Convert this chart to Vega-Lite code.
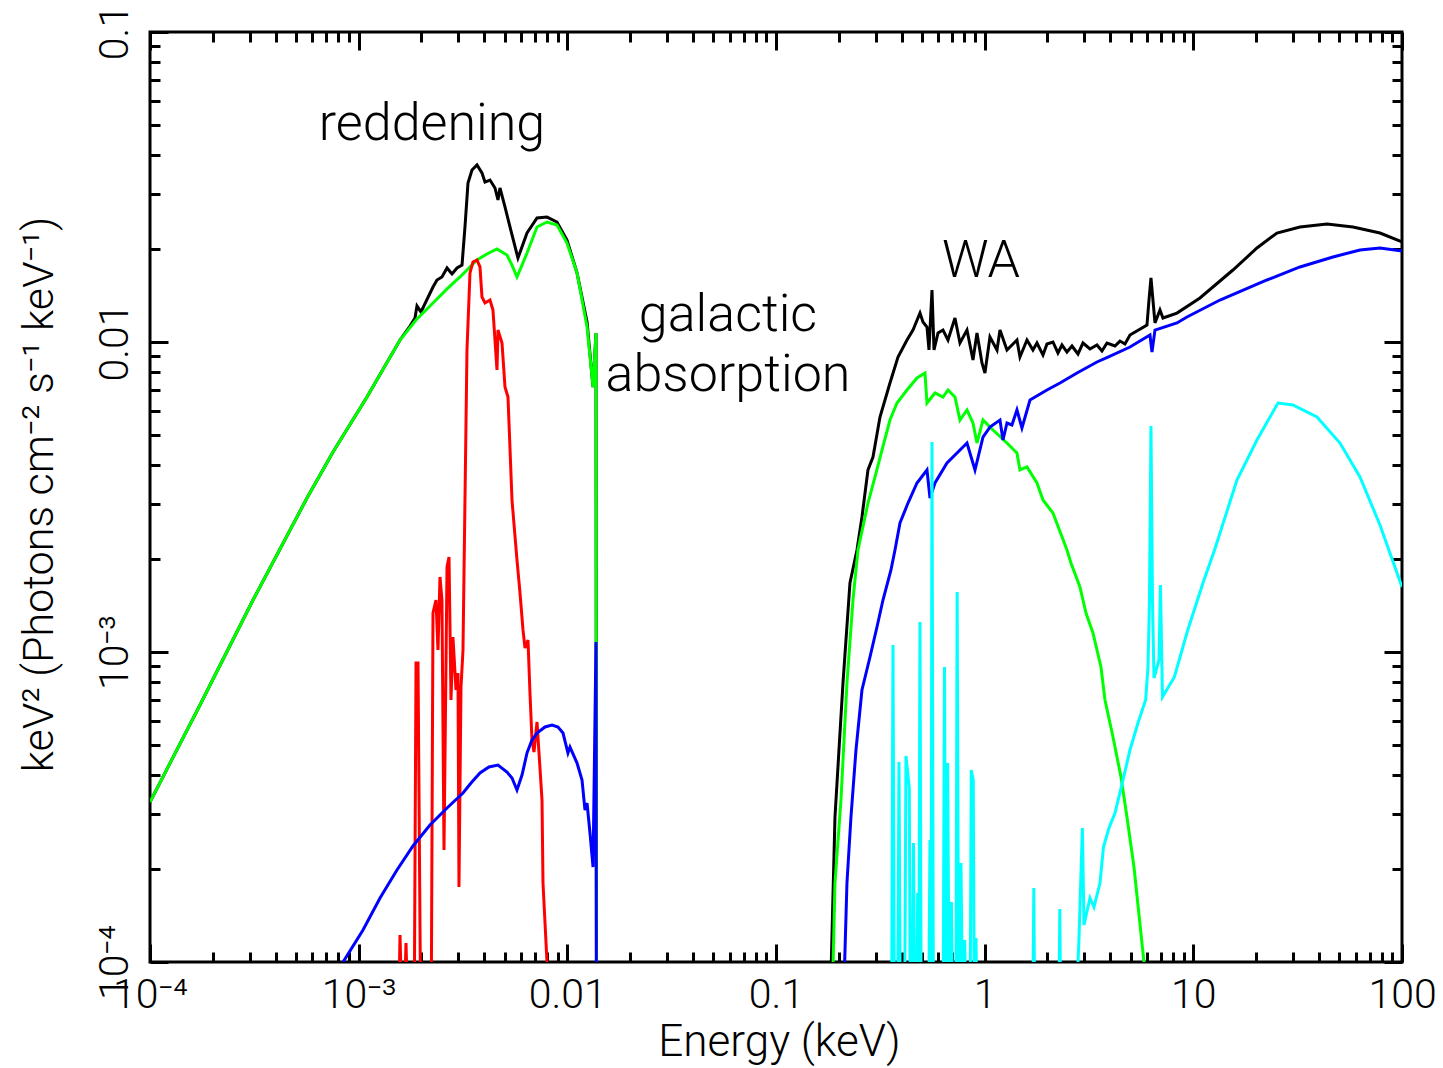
{
 "$schema": "https://vega.github.io/schema/vega-lite/v6.json",
 "width": 1252,
 "height": 930,
 "autosize": {"type": "none"},
 "padding": {"left": 150, "top": 32, "right": 41, "bottom": 106},
 "background": "white",
 "config": {
  "view": {"stroke": "black", "strokeWidth": 3},
  "axis": {"grid": false, "domain": false, "tickColor": "black", "tickWidth": 3, "labelFont": "Roboto", "labelFontWeight": 300, "labelColor": "black", "titleFont": "Roboto", "titleFontWeight": 300, "titleColor": "black", "labelFlush": false, "labelOverlap": false, "labelBound": false},
  "text": {"font": "Roboto"}
 },
 "datasets": {
  "spec": [
   {"s":"k","g":1,"E":1e-4,"F":3.281e-4},{"s":"k","g":1,"E":1.736e-4,"F":6.745e-4},{"s":"k","g":1,"E":3.116e-4,"F":1.471e-3},{"s":"k","g":1,"E":5.655e-4,"F":3.139e-3},{"s":"k","g":1,"E":7.534e-4,"F":4.418e-3},{"s":"k","g":1,"E":1.096e-3,"F":6.645e-3},{"s":"k","g":1,"E":1.578e-3,"F":1.015e-2},{"s":"k","g":1,"E":1.762e-3,"F":1.126e-2},{"s":"k","g":1,"E":1.862e-3,"F":1.195e-2},{"s":"k","g":1,"E":1.903e-3,"F":1.306e-2},{"s":"k","g":1,"E":1.989e-3,"F":1.250e-2},{"s":"k","g":1,"E":2.271e-3,"F":1.504e-2},{"s":"k","g":1,"E":2.373e-3,"F":1.585e-2},{"s":"k","g":1,"E":2.507e-3,"F":1.621e-2},{"s":"k","g":1,"E":2.651e-3,"F":1.733e-2},{"s":"k","g":1,"E":2.801e-3,"F":1.657e-2},{"s":"k","g":1,"E":2.960e-3,"F":1.733e-2},{"s":"k","g":1,"E":3.128e-3,"F":1.771e-2},{"s":"k","g":1,"E":3.232e-3,"F":2.350e-2},{"s":"k","g":1,"E":3.341e-3,"F":3.257e-2},{"s":"k","g":1,"E":3.492e-3,"F":3.587e-2},{"s":"k","g":1,"E":3.690e-3,"F":3.724e-2},{"s":"k","g":1,"E":3.899e-3,"F":3.509e-2},{"s":"k","g":1,"E":4.031e-3,"F":3.281e-2},{"s":"k","g":1,"E":4.259e-3,"F":3.331e-2},{"s":"k","g":1,"E":4.501e-3,"F":3.139e-2},{"s":"k","g":1,"E":4.652e-3,"F":2.872e-2},{"s":"k","g":1,"E":4.756e-3,"F":3.139e-2},{"s":"k","g":1,"E":5.026e-3,"F":2.726e-2},{"s":"k","g":1,"E":5.310e-3,"F":2.350e-2},{"s":"k","g":1,"E":5.800e-3,"F":1.866e-2},{"s":"k","g":1,"E":6.409e-3,"F":2.247e-2},{"s":"k","g":1,"E":7.157e-3,"F":2.512e-2},{"s":"k","g":1,"E":7.990e-3,"F":2.530e-2},{"s":"k","g":1,"E":8.921e-3,"F":2.438e-2},{"s":"k","g":1,"E":9.961e-3,"F":2.133e-2},{"s":"k","g":1,"E":1.030e-2,"F":1.981e-2},{"s":"k","g":1,"E":1.113e-2,"F":1.670e-2},{"s":"k","g":1,"E":1.243e-2,"F":1.160e-2},{"s":"k","g":1,"E":1.328e-2,"F":7.158e-3},{"s":"k","g":1,"E":1.372e-2,"F":1.069e-2},{"s":"k","g":1,"E":1.387e-2,"F":1e-6},
   {"s":"k","g":2,"E":0.1794,"F":5e-5},{"s":"k","g":2,"E":0.1917,"F":2.936e-4},{"s":"k","g":2,"E":0.2094,"F":7.943e-4},{"s":"k","g":2,"E":0.2262,"F":1.670e-3},{"s":"k","g":2,"E":0.2444,"F":2.133e-3},{"s":"k","g":2,"E":0.2582,"F":2.726e-3},{"s":"k","g":2,"E":0.2759,"F":3.865e-3},{"s":"k","g":2,"E":0.2916,"F":4.256e-3},{"s":"k","g":2,"E":0.3150,"F":5.730e-3},{"s":"k","g":2,"E":0.3517,"F":7.374e-3},{"s":"k","g":2,"E":0.3843,"F":8.945e-3},{"s":"k","g":2,"E":0.4244,"F":1.015e-2},{"s":"k","g":2,"E":0.4534,"F":1.093e-2},{"s":"k","g":2,"E":0.4898,"F":1.240e-2},{"s":"k","g":2,"E":0.5063,"F":1.160e-2},{"s":"k","g":2,"E":0.5291,"F":1.118e-2},{"s":"k","g":2,"E":0.5409,"F":9.424e-3},{"s":"k","g":2,"E":0.5592,"F":1.471e-2},{"s":"k","g":2,"E":0.5717,"F":9.424e-3},{"s":"k","g":2,"E":0.5975,"F":1.069e-2},{"s":"k","g":2,"E":0.6313,"F":1.093e-2},{"s":"k","g":2,"E":0.6672,"F":1.015e-2},{"s":"k","g":2,"E":0.7206,"F":1.195e-2},{"s":"k","g":2,"E":0.7614,"F":9.926e-3},{"s":"k","g":2,"E":0.8228,"F":1.093e-2},{"s":"k","g":2,"E":0.8790,"F":8.748e-3},{"s":"k","g":2,"E":0.9186,"F":1.069e-2},{"s":"k","g":2,"E":0.9707,"F":8.555e-3},{"s":"k","g":2,"E":1.003,"F":7.943e-3},{"s":"k","g":2,"E":1.060,"F":1.038e-2},{"s":"k","g":2,"E":1.146,"F":9.424e-3},{"s":"k","g":2,"E":1.184,"F":1.093e-2},{"s":"k","g":2,"E":1.279,"F":9.424e-3},{"s":"k","g":2,"E":1.428,"F":1.015e-2},{"s":"k","g":2,"E":1.476,"F":8.945e-3},{"s":"k","g":2,"E":1.595,"F":1.015e-2},{"s":"k","g":2,"E":1.704,"F":9.424e-3},{"s":"k","g":2,"E":1.781,"F":9.926e-3},{"s":"k","g":2,"E":1.903,"F":9.080e-3},{"s":"k","g":2,"E":1.989,"F":9.852e-3},{"s":"k","g":2,"E":2.125,"F":1.000e-2},{"s":"k","g":2,"E":2.245,"F":9.216e-3},{"s":"k","g":2,"E":2.347,"F":9.779e-3},{"s":"k","g":2,"E":2.480,"F":9.283e-3},{"s":"k","g":2,"E":2.621,"F":9.707e-3},{"s":"k","g":2,"E":2.801,"F":9.148e-3},{"s":"k","g":2,"E":2.959,"F":9.926e-3},{"s":"k","g":2,"E":3.197,"F":9.493e-3},{"s":"k","g":2,"E":3.453,"F":9.779e-3},{"s":"k","g":2,"E":3.649,"F":9.354e-3},{"s":"k","g":2,"E":3.856,"F":9.926e-3},{"s":"k","g":2,"E":4.212,"F":9.707e-3},{"s":"k","g":2,"E":4.450,"F":1.007e-2},{"s":"k","g":2,"E":4.703,"F":9.852e-3},{"s":"k","g":2,"E":4.970,"F":1.053e-2},{"s":"k","g":2,"E":5.995,"F":1.134e-2},{"s":"k","g":2,"E":6.130,"F":1.366e-2},{"s":"k","g":2,"E":6.266,"F":1.609e-2},{"s":"k","g":2,"E":6.549,"F":1.152e-2},{"s":"k","g":2,"E":6.920,"F":1.268e-2},{"s":"k","g":2,"E":7.152,"F":1.195e-2},{"s":"k","g":2,"E":8.348,"F":1.240e-2},{"s":"k","g":2,"E":10.76,"F":1.387e-2},{"s":"k","g":2,"E":15.48,"F":1.707e-2},{"s":"k","g":2,"E":20.18,"F":2.010e-2},{"s":"k","g":2,"E":25.16,"F":2.247e-2},{"s":"k","g":2,"E":32.43,"F":2.350e-2},{"s":"k","g":2,"E":43.70,"F":2.403e-2},{"s":"k","g":2,"E":58.21,"F":2.350e-2},{"s":"k","g":2,"E":78.43,"F":2.247e-2},{"s":"k","g":2,"E":100,"F":2.102e-2},
   {"s":"g","g":1,"E":1e-4,"F":3.281e-4},{"s":"g","g":1,"E":1.736e-4,"F":6.745e-4},{"s":"g","g":1,"E":3.116e-4,"F":1.471e-3},{"s":"g","g":1,"E":5.655e-4,"F":3.139e-3},{"s":"g","g":1,"E":7.534e-4,"F":4.418e-3},{"s":"g","g":1,"E":1.096e-3,"F":6.645e-3},{"s":"g","g":1,"E":1.578e-3,"F":1.015e-2},{"s":"g","g":1,"E":1.883e-3,"F":1.178e-2},{"s":"g","g":1,"E":2.271e-3,"F":1.336e-2},{"s":"g","g":1,"E":2.651e-3,"F":1.483e-2},{"s":"g","g":1,"E":3.059e-3,"F":1.621e-2},{"s":"g","g":1,"E":3.690e-3,"F":1.839e-2},{"s":"g","g":1,"E":4.121e-3,"F":1.923e-2},{"s":"g","g":1,"E":4.601e-3,"F":1.995e-2},{"s":"g","g":1,"E":5.138e-3,"F":1.908e-2},{"s":"g","g":1,"E":5.430e-3,"F":1.771e-2},{"s":"g","g":1,"E":5.737e-3,"F":1.621e-2},{"s":"g","g":1,"E":6.064e-3,"F":1.771e-2},{"s":"g","g":1,"E":6.409e-3,"F":1.937e-2},{"s":"g","g":1,"E":7.157e-3,"F":2.350e-2},{"s":"g","g":1,"E":7.990e-3,"F":2.438e-2},{"s":"g","g":1,"E":8.921e-3,"F":2.385e-2},{"s":"g","g":1,"E":9.961e-3,"F":2.086e-2},{"s":"g","g":1,"E":1.113e-2,"F":1.670e-2},{"s":"g","g":1,"E":1.243e-2,"F":1.118e-2},{"s":"g","g":1,"E":1.328e-2,"F":7.158e-3},{"s":"g","g":1,"E":1.372e-2,"F":1.069e-2},{"s":"g","g":1,"E":1.387e-2,"F":1e-6},
   {"s":"g","g":2,"E":0.1834,"F":5e-5},{"s":"g","g":2,"E":0.1917,"F":1.798e-4},{"s":"g","g":2,"E":0.2048,"F":3.331e-4},{"s":"g","g":2,"E":0.2188,"F":7.943e-4},{"s":"g","g":2,"E":0.2338,"F":1.471e-3},{"s":"g","g":2,"E":0.2471,"F":2.133e-3},{"s":"g","g":2,"E":0.2759,"F":3.024e-3},{"s":"g","g":2,"E":0.2980,"F":3.668e-3},{"s":"g","g":2,"E":0.3220,"F":4.483e-3},{"s":"g","g":2,"E":0.3517,"F":5.602e-3},{"s":"g","g":2,"E":0.3800,"F":6.355e-3},{"s":"g","g":2,"E":0.4244,"F":7.002e-3},{"s":"g","g":2,"E":0.4738,"F":7.655e-3},{"s":"g","g":2,"E":0.5175,"F":7.943e-3},{"s":"g","g":2,"E":0.5291,"F":6.355e-3},{"s":"g","g":2,"E":0.5780,"F":6.847e-3},{"s":"g","g":2,"E":0.6313,"F":6.645e-3},{"s":"g","g":2,"E":0.6672,"F":7.002e-3},{"s":"g","g":2,"E":0.7206,"F":6.645e-3},{"s":"g","g":2,"E":0.7614,"F":5.602e-3},{"s":"g","g":2,"E":0.8228,"F":6.035e-3},{"s":"g","g":2,"E":0.8790,"F":5.478e-3},{"s":"g","g":2,"E":0.9186,"F":4.722e-3},{"s":"g","g":2,"E":0.9815,"F":5.602e-3},{"s":"g","g":2,"E":1.096,"F":5.200e-3},{"s":"g","g":2,"E":1.279,"F":4.722e-3},{"s":"g","g":2,"E":1.428,"F":4.383e-3},{"s":"g","g":2,"E":1.476,"F":3.865e-3},{"s":"g","g":2,"E":1.595,"F":3.952e-3},{"s":"g","g":2,"E":1.781,"F":3.509e-3},{"s":"g","g":2,"E":1.903,"F":3.092e-3},{"s":"g","g":2,"E":2.125,"F":2.807e-3},{"s":"g","g":2,"E":2.480,"F":2.133e-3},{"s":"g","g":2,"E":2.592,"F":1.937e-3},{"s":"g","g":2,"E":2.861,"F":1.621e-3},{"s":"g","g":2,"E":3.059,"F":1.336e-3},{"s":"g","g":2,"E":3.304,"F":1.152e-3},{"s":"g","g":2,"E":3.609,"F":8.945e-4},{"s":"g","g":2,"E":3.772,"F":7.002e-4},{"s":"g","g":2,"E":4.121,"F":5.318e-4},{"s":"g","g":2,"E":4.500,"F":3.952e-4},{"s":"g","g":2,"E":4.808,"F":2.936e-4},{"s":"g","g":2,"E":5.194,"F":2.025e-4},{"s":"g","g":2,"E":5.800,"F":1.0e-4},{"s":"g","g":2,"E":5.9,"F":5e-5},
   {"s":"r","g":1,"E":1.543e-3,"F":5e-5},{"s":"r","g":1,"E":1.578e-3,"F":1.222e-4},{"s":"r","g":1,"E":1.631e-3,"F":5e-5},{"s":"r","g":1,"E":1.686e-3,"F":1.152e-4},{"s":"r","g":1,"E":1.742e-3,"F":5e-5},{"s":"r","g":1,"E":1.842e-3,"F":5e-5},{"s":"r","g":1,"E":1.883e-3,"F":9.216e-4},{"s":"r","g":1,"E":1.925e-3,"F":9.216e-4},{"s":"r","g":1,"E":1.989e-3,"F":5e-5},{"s":"r","g":1,"E":2.222e-3,"F":5e-5},{"s":"r","g":1,"E":2.271e-3,"F":1.336e-3},{"s":"r","g":1,"E":2.347e-3,"F":1.471e-3},{"s":"r","g":1,"E":2.399e-3,"F":1.015e-3},{"s":"r","g":1,"E":2.453e-3,"F":1.746e-3},{"s":"r","g":1,"E":2.507e-3,"F":1.471e-3},{"s":"r","g":1,"E":2.564e-3,"F":2.298e-4},{"s":"r","g":1,"E":2.651e-3,"F":1.880e-3},{"s":"r","g":1,"E":2.710e-3,"F":2.025e-3},{"s":"r","g":1,"E":2.770e-3,"F":7.002e-4},{"s":"r","g":1,"E":2.831e-3,"F":1.118e-3},{"s":"r","g":1,"E":2.927e-3,"F":7.541e-4},{"s":"r","g":1,"E":2.992e-3,"F":8.555e-4},{"s":"r","g":1,"E":3.025e-3,"F":1.746e-4},{"s":"r","g":1,"E":3.093e-3,"F":7.712e-4},{"s":"r","g":1,"E":3.162e-3,"F":1.015e-3},{"s":"r","g":1,"E":3.232e-3,"F":3.092e-3},{"s":"r","g":1,"E":3.304e-3,"F":9.424e-3},{"s":"r","g":1,"E":3.416e-3,"F":1.670e-2},{"s":"r","g":1,"E":3.531e-3,"F":1.812e-2},{"s":"r","g":1,"E":3.690e-3,"F":1.839e-2},{"s":"r","g":1,"E":3.814e-3,"F":1.746e-2},{"s":"r","g":1,"E":3.899e-3,"F":1.397e-2},{"s":"r","g":1,"E":4.031e-3,"F":1.336e-2},{"s":"r","g":1,"E":4.259e-3,"F":1.366e-2},{"s":"r","g":1,"E":4.402e-3,"F":1.268e-2},{"s":"r","g":1,"E":4.601e-3,"F":8.122e-3},{"s":"r","g":1,"E":4.652e-3,"F":1.093e-2},{"s":"r","g":1,"E":4.863e-3,"F":9.926e-3},{"s":"r","g":1,"E":5.026e-3,"F":7.158e-3},{"s":"r","g":1,"E":5.195e-3,"F":6.645e-3},{"s":"r","g":1,"E":5.430e-3,"F":3.092e-3},{"s":"r","g":1,"E":5.737e-3,"F":1.981e-3},{"s":"r","g":1,"E":5.932e-3,"F":1.550e-3},{"s":"r","g":1,"E":6.131e-3,"F":1.178e-3},{"s":"r","g":1,"E":6.268e-3,"F":1.030e-3},{"s":"r","g":1,"E":6.479e-3,"F":1.093e-3},{"s":"r","g":1,"E":6.622e-3,"F":7.374e-4},{"s":"r","g":1,"E":6.770e-3,"F":5.200e-4},{"s":"r","g":1,"E":6.921e-3,"F":4.757e-4},{"s":"r","g":1,"E":7.157e-3,"F":5.945e-4},{"s":"r","g":1,"E":7.316e-3,"F":4.722e-4},{"s":"r","g":1,"E":7.562e-3,"F":3.331e-4},{"s":"r","g":1,"E":7.645e-3,"F":1.798e-4},{"s":"r","g":1,"E":7.990e-3,"F":1.0e-4},{"s":"r","g":1,"E":8.168e-3,"F":5e-5},
   {"s":"b","g":1,"E":7.700e-4,"F":9.08e-5},{"s":"b","g":1,"E":1.049e-3,"F":1.268e-4},{"s":"b","g":1,"E":1.266e-3,"F":1.609e-4},{"s":"b","g":1,"E":1.526e-3,"F":1.981e-4},{"s":"b","g":1,"E":1.821e-3,"F":2.367e-4},{"s":"b","g":1,"E":2.197e-3,"F":2.766e-4},{"s":"b","g":1,"E":2.651e-3,"F":3.139e-4},{"s":"b","g":1,"E":3.162e-3,"F":3.509e-4},{"s":"b","g":1,"E":3.454e-3,"F":3.778e-4},{"s":"b","g":1,"E":3.814e-3,"F":4.071e-4},{"s":"b","g":1,"E":4.212e-3,"F":4.256e-4},{"s":"b","g":1,"E":4.652e-3,"F":4.318e-4},{"s":"b","g":1,"E":5.138e-3,"F":4.101e-4},{"s":"b","g":1,"E":5.430e-3,"F":3.922e-4},{"s":"b","g":1,"E":5.737e-3,"F":3.587e-4},{"s":"b","g":1,"E":6.064e-3,"F":4.010e-4},{"s":"b","g":1,"E":6.409e-3,"F":4.722e-4},{"s":"b","g":1,"E":6.770e-3,"F":5.200e-4},{"s":"b","g":1,"E":7.157e-3,"F":5.478e-4},{"s":"b","g":1,"E":7.815e-3,"F":5.730e-4},{"s":"b","g":1,"E":8.444e-3,"F":5.813e-4},{"s":"b","g":1,"E":9.020e-3,"F":5.730e-4},{"s":"b","g":1,"E":9.533e-3,"F":5.478e-4},{"s":"b","g":1,"E":1.007e-2,"F":4.722e-4},{"s":"b","g":1,"E":1.030e-2,"F":4.937e-4},{"s":"b","g":1,"E":1.113e-2,"F":4.383e-4},{"s":"b","g":1,"E":1.176e-2,"F":3.865e-4},{"s":"b","g":1,"E":1.215e-2,"F":3.092e-4},{"s":"b","g":1,"E":1.243e-2,"F":3.257e-4},{"s":"b","g":1,"E":1.284e-2,"F":2.607e-4},{"s":"b","g":1,"E":1.328e-2,"F":2.025e-4},{"s":"b","g":1,"E":1.372e-2,"F":1.077e-3},{"s":"b","g":1,"E":1.387e-2,"F":1e-6},
   {"s":"b","g":2,"E":0.2071,"F":5e-5},{"s":"b","g":2,"E":0.2188,"F":1.798e-4},{"s":"b","g":2,"E":0.2287,"F":2.936e-4},{"s":"b","g":2,"E":0.2417,"F":4.829e-4},{"s":"b","g":2,"E":0.2582,"F":7.541e-4},{"s":"b","g":2,"E":0.2821,"F":9.636e-4},{"s":"b","g":2,"E":0.3047,"F":1.204e-3},{"s":"b","g":2,"E":0.3256,"F":1.471e-3},{"s":"b","g":2,"E":0.3556,"F":1.839e-3},{"s":"b","g":2,"E":0.3717,"F":2.133e-3},{"s":"b","g":2,"E":0.3928,"F":2.607e-3},{"s":"b","g":2,"E":0.4291,"F":3.024e-3},{"s":"b","g":2,"E":0.4738,"F":3.509e-3},{"s":"b","g":2,"E":0.5291,"F":3.865e-3},{"s":"b","g":2,"E":0.5469,"F":3.139e-3},{"s":"b","g":2,"E":0.5780,"F":3.509e-3},{"s":"b","g":2,"E":0.6598,"F":4.071e-3},{"s":"b","g":2,"E":0.7370,"F":4.383e-3},{"s":"b","g":2,"E":0.8228,"F":4.722e-3},{"s":"b","g":2,"E":0.8987,"F":3.865e-3},{"s":"b","g":2,"E":0.9815,"F":4.937e-3},{"s":"b","g":2,"E":1.060,"F":5.318e-3},{"s":"b","g":2,"E":1.184,"F":5.602e-3},{"s":"b","g":2,"E":1.224,"F":4.829e-3},{"s":"b","g":2,"E":1.279,"F":5.478e-3},{"s":"b","g":2,"E":1.351,"F":5.398e-3},{"s":"b","g":2,"E":1.428,"F":6.035e-3},{"s":"b","g":2,"E":1.509,"F":5.280e-3},{"s":"b","g":2,"E":1.649,"F":6.499e-3},{"s":"b","g":2,"E":1.989,"F":7.002e-3},{"s":"b","g":2,"E":2.296,"F":7.374e-3},{"s":"b","g":2,"E":2.770,"F":7.943e-3},{"s":"b","g":2,"E":3.453,"F":8.620e-3},{"s":"b","g":2,"E":3.899,"F":8.945e-3},{"s":"b","g":2,"E":4.970,"F":9.636e-3},{"s":"b","g":2,"E":6.198,"F":1.053e-2},{"s":"b","g":2,"E":6.336,"F":9.283e-3},{"s":"b","g":2,"E":6.549,"F":1.093e-2},{"s":"b","g":2,"E":8.348,"F":1.152e-2},{"s":"b","g":2,"E":9.322,"F":1.204e-2},{"s":"b","g":2,"E":13.42,"F":1.366e-2},{"s":"b","g":2,"E":22.54,"F":1.585e-2},{"s":"b","g":2,"E":32.43,"F":1.746e-2},{"s":"b","g":2,"E":46.70,"F":1.880e-2},{"s":"b","g":2,"E":62.89,"F":1.981e-2},{"s":"b","g":2,"E":78.43,"F":2.010e-2},{"s":"b","g":2,"E":100,"F":1.966e-2},
   {"s":"c","g":1,"E":0.3576,"F":5e-5},{"s":"c","g":1,"E":0.3636,"F":1.053e-3},{"s":"c","g":1,"E":0.3697,"F":5e-5},{"s":"c","g":1,"E":0.3821,"F":5e-5},{"s":"c","g":1,"E":0.3885,"F":4.418e-4},{"s":"c","g":1,"E":0.3950,"F":5e-5},{"s":"c","g":1,"E":0.4127,"F":5e-5},{"s":"c","g":1,"E":0.4196,"F":4.618e-4},{"s":"c","g":1,"E":0.4353,"F":3.641e-4},{"s":"c","g":1,"E":0.4411,"F":5e-5},{"s":"c","g":1,"E":0.4484,"F":5e-5},{"s":"c","g":1,"E":0.4560,"F":2.420e-4},{"s":"c","g":1,"E":0.4636,"F":5e-5},{"s":"c","g":1,"E":0.4713,"F":5e-5},{"s":"c","g":1,"E":0.4775,"F":1.670e-4},{"s":"c","g":1,"E":0.4828,"F":5e-5},{"s":"c","g":1,"E":0.4898,"F":1.250e-3},{"s":"c","g":1,"E":0.4969,"F":5e-5},{"s":"c","g":1,"E":0.5379,"F":5e-5},{"s":"c","g":1,"E":0.5469,"F":2.474e-4},{"s":"c","g":1,"E":0.5530,"F":5e-5},{"s":"c","g":1,"E":0.5592,"F":4.757e-3},{"s":"c","g":1,"E":0.5686,"F":5e-5},{"s":"c","g":1,"E":0.6313,"F":5e-5},{"s":"c","g":1,"E":0.6419,"F":8.945e-4},{"s":"c","g":1,"E":0.6527,"F":5e-5},{"s":"c","g":1,"E":0.6643,"F":4.383e-4},{"s":"c","g":1,"E":0.6785,"F":5e-5},{"s":"c","g":1,"E":0.6927,"F":1.561e-4},{"s":"c","g":1,"E":0.7051,"F":5e-5},{"s":"c","g":1,"E":0.7270,"F":5e-5},{"s":"c","g":1,"E":0.7383,"F":1.561e-3},{"s":"c","g":1,"E":0.7516,"F":5e-5},{"s":"c","g":1,"E":0.7700,"F":2.086e-4},{"s":"c","g":1,"E":0.7873,"F":5e-5},{"s":"c","g":1,"E":0.8029,"F":1.178e-4},{"s":"c","g":1,"E":0.8182,"F":5e-5},{"s":"c","g":1,"E":0.8503,"F":5e-5},{"s":"c","g":1,"E":0.8625,"F":4.163e-4},{"s":"c","g":1,"E":0.8817,"F":3.865e-4},{"s":"c","g":1,"E":0.8939,"F":5e-5},{"s":"c","g":1,"E":0.9087,"F":1.195e-4},{"s":"c","g":1,"E":0.9239,"F":5e-5},{"s":"c","g":1,"E":1.695,"F":5e-5},{"s":"c","g":1,"E":1.720,"F":1.733e-4},{"s":"c","g":1,"E":1.742,"F":5e-5},{"s":"c","g":1,"E":2.258,"F":5e-5},{"s":"c","g":1,"E":2.291,"F":1.483e-4},{"s":"c","g":1,"E":2.322,"F":5e-5},{"s":"c","g":1,"E":2.679,"F":5e-5},{"s":"c","g":1,"E":2.830,"F":1.178e-4},{"s":"c","g":1,"E":2.940,"F":2.705e-4},{"s":"c","g":1,"E":2.992,"F":1.316e-4},{"s":"c","g":1,"E":3.197,"F":1.609e-4},{"s":"c","g":1,"E":3.341,"F":1.504e-4},{"s":"c","g":1,"E":3.570,"F":1.798e-4},{"s":"c","g":1,"E":3.710,"F":2.350e-4},{"s":"c","g":1,"E":3.942,"F":2.705e-4},{"s":"c","g":1,"E":4.212,"F":3.024e-4},{"s":"c","g":1,"E":4.601,"F":3.865e-4},{"s":"c","g":1,"E":4.970,"F":4.829e-4},{"s":"c","g":1,"E":5.428,"F":5.902e-4},{"s":"c","g":1,"E":5.908,"F":7.002e-4},{"s":"c","g":1,"E":6.063,"F":8.945e-4},{"s":"c","g":1,"E":6.164,"F":1.471e-3},{"s":"c","g":1,"E":6.266,"F":5.358e-3},{"s":"c","g":1,"E":6.371,"F":1.471e-3},{"s":"c","g":1,"E":6.478,"F":8.243e-4},{"s":"c","g":1,"E":6.844,"F":9.424e-4},{"s":"c","g":1,"E":6.958,"F":1.645e-3},{"s":"c","g":1,"E":7.114,"F":7.158e-4},{"s":"c","g":1,"E":8.113,"F":8.309e-4},{"s":"c","g":1,"E":9.406,"F":1.178e-3},{"s":"c","g":1,"E":11.12,"F":1.670e-3},{"s":"c","g":1,"E":12.64,"F":2.133e-3},{"s":"c","g":1,"E":16.18,"F":3.587e-3},{"s":"c","g":1,"E":20.18,"F":4.829e-3},{"s":"c","g":1,"E":25.44,"F":6.355e-3},{"s":"c","g":1,"E":30.02,"F":6.262e-3},{"s":"c","g":1,"E":39.13,"F":5.730e-3},{"s":"c","g":1,"E":50.44,"F":4.722e-3},{"s":"c","g":1,"E":62.89,"F":3.668e-3},{"s":"c","g":1,"E":78.43,"F":2.569e-3},{"s":"c","g":1,"E":100,"F":1.621e-3}
  ],
  "notes": [
   {"t":"reddening","E":2.246e-3,"F":4.483e-2},
   {"t":"WA","E":0.960,"F":1.621e-2},
   {"t":"galactic","E":0.05888,"F":1.085e-2},
   {"t":"absorption","E":0.05888,"F":6.949e-3}
  ]
 },
 "resolve": {"axis": {"x": "independent", "y": "independent"}},
 "layer": [
  {
   "data": {"name": "spec"},
   "transform": [{"filter": "datum.s == 'k'"}],
   "mark": {"type": "line", "color": "black", "strokeWidth": 3, "clip": true},
   "encoding": {
    "x": {"field": "E", "type": "quantitative", "scale": {"type": "log", "domain": [0.0001, 100], "nice": false},
     "axis": {"orient": "bottom", "values": [0.0001, 0.001, 0.01, 0.1, 1, 10, 100], "tickSize": -18, "labelExpr": "datum.value < 0.0005 ? '10⁻⁴' : datum.value < 0.005 ? '10⁻³' : datum.value < 0.05 ? '0.01' : datum.value < 0.5 ? '0.1' : datum.value < 5 ? '1' : datum.value < 50 ? '10' : '100'", "labelFontSize": 41, "labelPadding": 63, "labelBaseline": "alphabetic", "labelAlign": "center", "title": "Energy (keV)", "titleFontSize": 44, "titleX": 629, "titleY": 93, "titleBaseline": "alphabetic", "titleAlign": "center"}},
    "y": {"field": "F", "type": "quantitative", "scale": {"type": "log", "domain": [0.0001, 0.1], "nice": false},
     "axis": {"orient": "left", "values": [0.0001, 0.001, 0.01, 0.1], "tickSize": -18, "labelExpr": "datum.value < 0.0005 ? '10⁻⁴' : datum.value < 0.005 ? '10⁻³' : datum.value < 0.05 ? '0.01' : '0.1'", "labelFontSize": 41, "labelAngle": 270, "labelAlign": "center", "labelBaseline": "alphabetic", "labelPadding": 41, "title": "keV² (Photons cm⁻² s⁻¹ keV⁻¹)", "titleFontSize": 43, "titleAngle": 270, "titleX": -98, "titleY": 462, "titleBaseline": "alphabetic", "titleAlign": "center"}},
    "detail": {"field": "g", "type": "nominal"}
   }
  },
  {
   "data": {"name": "spec"},
   "transform": [{"filter": "datum.s == 'g'"}],
   "mark": {"type": "line", "color": "#00ff00", "strokeWidth": 3, "clip": true},
   "encoding": {
    "x": {"field": "E", "type": "quantitative", "scale": {"type": "log", "domain": [0.0001, 100], "nice": false},
     "axis": {"orient": "bottom", "values": [0.0002,0.0003,0.0004,0.0005,0.0006,0.0007,0.0008,0.0009,0.002,0.003,0.004,0.005,0.006,0.007,0.008,0.009,0.02,0.03,0.04,0.05,0.06,0.07,0.08,0.09,0.2,0.3,0.4,0.5,0.6,0.7,0.8,0.9,2,3,4,5,6,7,8,9,20,30,40,50,60,70,80,90], "tickSize": -10, "labels": false, "title": null}},
    "y": {"field": "F", "type": "quantitative", "scale": {"type": "log", "domain": [0.0001, 0.1], "nice": false},
     "axis": {"orient": "left", "values": [0.0002,0.0003,0.0004,0.0005,0.0006,0.0007,0.0008,0.0009,0.002,0.003,0.004,0.005,0.006,0.007,0.008,0.009,0.02,0.03,0.04,0.05,0.06,0.07,0.08,0.09], "tickSize": -10, "labels": false, "title": null}},
    "detail": {"field": "g", "type": "nominal"}
   }
  },
  {
   "data": {"name": "spec"},
   "transform": [{"filter": "datum.s == 'r'"}],
   "mark": {"type": "line", "color": "#ff0000", "strokeWidth": 3, "clip": true},
   "encoding": {
    "x": {"field": "E", "type": "quantitative", "scale": {"type": "log", "domain": [0.0001, 100], "nice": false},
     "axis": {"orient": "top", "values": [0.0001, 0.001, 0.01, 0.1, 1, 10, 100], "tickSize": -18, "labels": false, "title": null}},
    "y": {"field": "F", "type": "quantitative", "scale": {"type": "log", "domain": [0.0001, 0.1], "nice": false},
     "axis": {"orient": "right", "values": [0.0001, 0.001, 0.01, 0.1], "tickSize": -18, "labels": false, "title": null}}
   }
  },
  {
   "data": {"name": "spec"},
   "transform": [{"filter": "datum.s == 'b'"}],
   "mark": {"type": "line", "color": "#0000ff", "strokeWidth": 3, "clip": true},
   "encoding": {
    "x": {"field": "E", "type": "quantitative", "scale": {"type": "log", "domain": [0.0001, 100], "nice": false},
     "axis": {"orient": "top", "values": [0.0002,0.0003,0.0004,0.0005,0.0006,0.0007,0.0008,0.0009,0.002,0.003,0.004,0.005,0.006,0.007,0.008,0.009,0.02,0.03,0.04,0.05,0.06,0.07,0.08,0.09,0.2,0.3,0.4,0.5,0.6,0.7,0.8,0.9,2,3,4,5,6,7,8,9,20,30,40,50,60,70,80,90], "tickSize": -10, "labels": false, "title": null}},
    "y": {"field": "F", "type": "quantitative", "scale": {"type": "log", "domain": [0.0001, 0.1], "nice": false},
     "axis": {"orient": "right", "values": [0.0002,0.0003,0.0004,0.0005,0.0006,0.0007,0.0008,0.0009,0.002,0.003,0.004,0.005,0.006,0.007,0.008,0.009,0.02,0.03,0.04,0.05,0.06,0.07,0.08,0.09], "tickSize": -10, "labels": false, "title": null}},
    "detail": {"field": "g", "type": "nominal"}
   }
  },
  {
   "data": {"name": "spec"},
   "transform": [{"filter": "datum.s == 'c'"}],
   "mark": {"type": "line", "color": "#00ffff", "strokeWidth": 3, "clip": true},
   "encoding": {
    "x": {"field": "E", "type": "quantitative", "scale": {"type": "log", "domain": [0.0001, 100], "nice": false}, "axis": null},
    "y": {"field": "F", "type": "quantitative", "scale": {"type": "log", "domain": [0.0001, 0.1], "nice": false}, "axis": null}
   }
  },
  {
   "data": {"name": "notes"},
   "mark": {"type": "text", "fontSize": 52, "fontWeight": 300, "font": "Roboto", "color": "black", "align": "center", "baseline": "alphabetic"},
   "encoding": {
    "x": {"field": "E", "type": "quantitative", "scale": {"type": "log", "domain": [0.0001, 100], "nice": false}, "axis": null},
    "y": {"field": "F", "type": "quantitative", "scale": {"type": "log", "domain": [0.0001, 0.1], "nice": false}, "axis": null},
    "text": {"field": "t", "type": "nominal"}
   }
  }
 ]
}
